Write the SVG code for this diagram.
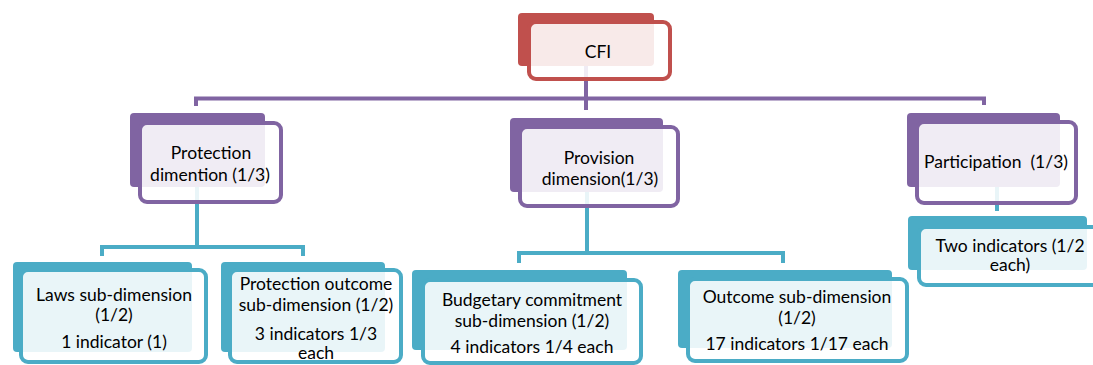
<svg xmlns="http://www.w3.org/2000/svg" width="1093" height="365" viewBox="0 0 1093 365">
  <style>
    .link { fill: none; stroke-width: 4; }
    .purple-link { stroke: #8064a2; }
    .teal-link { stroke: #4bacc6; }
    .back { stroke: none; }
    .front { fill: #ffffff; fill-opacity: 0.88; stroke-width: 4; }
    .red .back { fill: #c0504d; }
    .red .front { stroke: #c0504d; }
    .purple .back { fill: #8064a2; }
    .purple .front { stroke: #8064a2; }
    .teal .back { fill: #4bacc6; }
    .teal .front { stroke: #4bacc6; }
    text { font-family: Lato, "Open Sans", "Liberation Sans", sans-serif; font-size: 17.5px; fill: #000000; text-anchor: middle; }
  </style>

  <!-- connectors -->
  <g id="connectors">
    <path class="link purple-link" d="M586,66 V98.5 M194,98.5 H986 M196,97 V106 M586,97 V110 M984,97 V105"/>
    <path class="link teal-link" d="M197,187 V247 M100,247 H305 M102,245 V256 M303,245 V256"/>
    <path class="link teal-link" d="M587,192 V253 M517,253 H785 M519,251 V263 M783,251 V263"/>
    <path class="link teal-link" d="M997,187 V211"/>
  </g>

  <!-- root -->
  <g id="node-cfi" class="red">
    <rect class="back" x="518" y="13" width="136" height="53" rx="4"/>
    <rect class="front" x="529" y="22" width="141" height="57" rx="7"/>
    <text x="598" y="58">CFI</text>
  </g>

  <!-- dimensions -->
  <g id="node-protection" class="purple">
    <rect class="back" x="130" y="113" width="135" height="74" rx="4"/>
    <rect class="front" x="140" y="123" width="141" height="79" rx="7"/>
    <text x="211" y="159">Protection</text>
    <text x="210" y="181">dimention (1/3)</text>
  </g>

  <g id="node-provision" class="purple">
    <rect class="back" x="510" y="118" width="153" height="74" rx="4"/>
    <rect class="front" x="520" y="127" width="158" height="79" rx="7"/>
    <text x="599" y="164">Provision</text>
    <text x="600" y="185">dimension(1/3)</text>
  </g>

  <g id="node-participation" class="purple">
    <rect class="back" x="907" y="113" width="153" height="74" rx="4"/>
    <rect class="front" x="917" y="122" width="159" height="81" rx="7"/>
    <text x="996" y="168" xml:space="preserve">Participation  (1/3)</text>
  </g>

  <!-- sub-dimensions -->
  <g id="node-laws" class="teal">
    <rect class="back" x="13" y="262" width="179" height="90" rx="4"/>
    <rect class="front" x="21" y="270" width="185" height="92" rx="7"/>
    <text x="114" y="301">Laws sub-dimension</text>
    <text x="114" y="321">(1/2)</text>
    <text x="114" y="348">1 indicator (1)</text>
  </g>

  <g id="node-protection-outcome" class="teal">
    <rect class="back" x="221" y="262" width="164" height="90" rx="4"/>
    <rect class="front" x="230" y="270" width="171" height="92" rx="7"/>
    <text x="316" y="290">Protection outcome</text>
    <text x="316" y="311">sub-dimension (1/2)</text>
    <text x="316" y="340">3 indicators 1/3</text>
    <text x="316" y="359">each</text>
  </g>

  <g id="node-budgetary" class="teal">
    <rect class="back" x="412" y="270" width="215" height="80" rx="4"/>
    <rect class="front" x="423" y="280" width="218" height="83" rx="7"/>
    <text x="532" y="306">Budgetary commitment</text>
    <text x="532" y="327">sub-dimension (1/2)</text>
    <text x="532" y="353">4 indicators 1/4 each</text>
  </g>

  <g id="node-outcome" class="teal">
    <rect class="back" x="678" y="270" width="214" height="78" rx="4"/>
    <rect class="front" x="688" y="279" width="219" height="82" rx="7"/>
    <text x="797" y="303">Outcome sub-dimension</text>
    <text x="797" y="324">(1/2)</text>
    <text x="797" y="350">17 indicators 1/17 each</text>
  </g>

  <g id="node-two-indicators" class="teal">
    <rect class="back" x="908" y="216" width="179" height="54" rx="4"/>
    <rect class="front" x="919" y="227" width="190" height="58" rx="7"/>
    <text x="1010" y="252">Two indicators (1/2</text>
    <text x="1010" y="271">each)</text>
  </g>
</svg>
